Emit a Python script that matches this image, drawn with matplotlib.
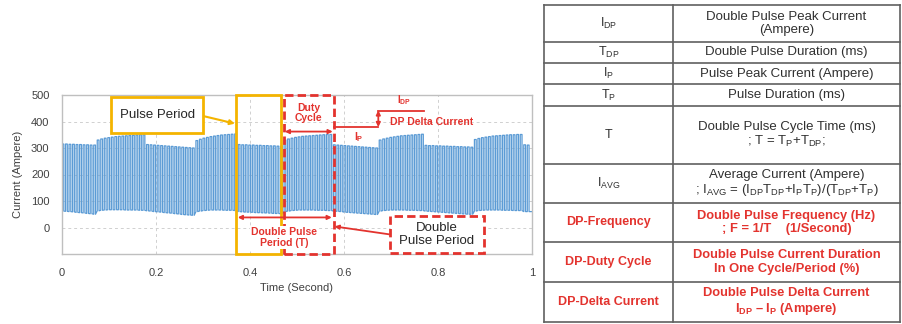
import matplotlib
matplotlib.use("Agg")
import matplotlib.pyplot as plt
from matplotlib.patches import Rectangle

plt.rcParams["font.family"] = ["Liberation Sans", "DejaVu Sans"]
plt.rcParams["mathtext.fontset"] = "custom"
plt.rcParams["mathtext.rm"] = "Liberation Sans"
plt.rcParams["mathtext.it"] = "Liberation Sans:italic"
plt.rcParams["mathtext.bf"] = "Liberation Sans:bold"

# ---- waveform data: one peak / base value per pulse ----
pulse_period = 0.0075  # s
peak_current = [
    315, 315, 314, 314, 313, 313, 312, 312, 311, 311,
    330, 334, 337, 339, 341, 343, 344, 345, 346, 347, 348, 349, 350, 350,
    313, 312, 311, 310, 309, 308, 307, 306, 305, 304, 303, 302, 301, 300,
    328, 333, 337, 340, 343, 345, 347, 349, 350, 351, 352, 353,
    313, 312, 312, 311, 311, 310, 310, 309, 309, 308, 308, 307, 307,
    330, 334, 337, 340, 342, 344, 345, 346, 347, 348, 349, 350, 351, 351,
    312, 311, 310, 309, 308, 307, 306, 305, 304, 303, 302, 301, 300,
    330, 334, 337, 340, 342, 344, 346, 347, 348, 349, 350, 351, 352,
    310, 309, 309, 308, 308, 307, 307, 306, 306, 305, 305, 304, 304, 303,
    332, 336, 339, 341, 343, 345, 346, 347, 348, 349, 350, 350, 351, 351,
    312, 311,
]
base_current = [
    62, 61, 60, 59, 57, 56, 55, 53, 52, 50,
    63, 65, 66, 67, 67, 67, 67, 67, 66, 66, 66, 66, 65, 65,
    63, 62, 60, 59, 58, 56, 55, 54, 52, 51, 49, 48, 47, 46,
    60, 62, 64, 65, 66, 66, 66, 66, 65, 65, 65, 64,
    60, 59, 58, 58, 57, 56, 56, 55, 55, 54, 53, 53, 52,
    60, 62, 64, 65, 66, 66, 66, 66, 66, 65, 65, 65, 64, 64,
    62, 61, 60, 58, 57, 56, 55, 54, 53, 52, 51, 50, 49,
    62, 64, 65, 66, 66, 66, 66, 66, 65, 65, 65, 64, 64,
    62, 61, 60, 59, 58, 57, 56, 55, 54, 53, 52, 51, 50, 50,
    62, 64, 65, 66, 66, 66, 66, 66, 65, 65, 65, 64, 64, 64,
    60, 60,
]

x_ticks = [0, 0.2, 0.4, 0.6, 0.8, 1]
x_tick_labels = ["0", "0.2", "0.4", "0.6", "0.8", "1"]
y_ticks = [0, 100, 200, 300, 400, 500]

# ---- definitions table ----
table_symbols = [
    r"I$_{\rm DP}$", r"T$_{\rm DP}$", r"I$_{\rm P}$", r"T$_{\rm P}$", "T",
    r"I$_{\rm AVG}$", "DP-Frequency", "DP-Duty Cycle", "DP-Delta Current",
]
table_meanings = [
    "Double Pulse Peak Current\n(Ampere)",
    "Double Pulse Duration (ms)",
    "Pulse Peak Current (Ampere)",
    "Pulse Duration (ms)",
    "Double Pulse Cycle Time (ms)\n" + r"; T = T$_{\rm P}$+T$_{\rm DP}$;",
    "Average Current (Ampere)\n"
    + r"; I$_{\rm AVG}$ = (I$_{\rm DP}$T$_{\rm DP}$+I$_{\rm P}$T$_{\rm P}$)/(T$_{\rm DP}$+T$_{\rm P}$)",
    "Double Pulse Frequency (Hz)\n; F = 1/T    (1/Second)",
    "Double Pulse Current Duration\nIn One Cycle/Period (%)",
    "Double Pulse Delta Current\n" + r"I$_{\mathbf{DP}}$ – I$_{\mathbf{P}}$ (Ampere)",
]
table_highlight = [False] * 6 + [True] * 3

BLUE = "#5B9BD5"
RED = "#E3332E"
GOLD = "#F4B400"

W, H = 903, 324
fig = plt.figure(figsize=(W / 100, H / 100), dpi=100)
fig.patch.set_facecolor("white")

# ---- waveform axes ----
ax = fig.add_axes([62 / W, 1 - 254 / H, 470 / W, 159 / H])
t_pts, i_pts = [], []
on_time = 0.5 * pulse_period
for k, (pk, bs) in enumerate(zip(peak_current, base_current)):
    t0 = k * pulse_period
    t_pts += [t0, t0, t0 + on_time, t0 + on_time]
    i_pts += [bs, pk, pk, bs]
t_pts.append(1.0)
i_pts.append(base_current[-1])
ax.plot(t_pts, i_pts, color=BLUE, lw=0.9, zorder=2)

ax.set_xlim(0, 1)
ax.set_ylim(-100, 500)
ax.set_xticks(x_ticks)
ax.set_xticklabels(x_tick_labels)
ax.set_yticks(y_ticks)
ax.tick_params(length=0, labelsize=8, colors="#404040")
ax.tick_params(axis="x", pad=10)
ax.tick_params(axis="y", pad=9)
ax.grid(True, color="#D0D0D0", lw=0.7, ls=(0, (3, 3)))
ax.set_axisbelow(True)
for s in ax.spines.values():
    s.set_color("#BFBFBF")
    s.set_linewidth(1)
ax.set_xlabel("Time (Second)", fontsize=8, color="#404040", labelpad=4)
ax.set_ylabel("Current (Ampere)", fontsize=8, color="#404040", labelpad=6)

# Pulse period frame
ax.add_patch(Rectangle((0.37, -100), 0.096, 600, fill=False, ec=GOLD, lw=2,
                       clip_on=False, zorder=4))
# Double pulse (duty cycle) frame
ax.add_patch(Rectangle((0.472, -100), 0.106, 600, fill=False, ec=RED, lw=2,
                       ls=(0, (3, 1.5)), clip_on=False, zorder=5))

arrow_kw = dict(arrowstyle="<|-|>", color=RED, lw=1.3, mutation_scale=6,
                shrinkA=0, shrinkB=0)
ax.annotate("", xy=(0.474, 362), xytext=(0.576, 362), arrowprops=arrow_kw, zorder=6)
ax.text(0.525, 432, "Duty\nCycle", color=RED, fontsize=7.5, fontweight="bold",
        ha="center", va="center", linespacing=1.1, zorder=6)

# delta current step marker
ax.plot([0.578, 0.673], [381, 381], color=RED, lw=1.3, zorder=6)
ax.plot([0.673, 0.771], [440, 440], color=RED, lw=1.3, zorder=6)
ax.annotate("", xy=(0.673, 442), xytext=(0.673, 379), arrowprops=arrow_kw, zorder=6)
ax.text(0.728, 482, r"I$_{\mathbf{DP}}$", color=RED, fontsize=7, fontweight="bold",
        ha="center", va="center")
ax.text(0.697, 398, "DP Delta Current", color=RED, fontsize=7.5, fontweight="bold",
        ha="left", va="center")
ax.text(0.632, 343, r"I$_{\mathbf{P}}$", color=RED, fontsize=7.5, fontweight="bold",
        ha="center", va="center")

# double pulse period arrow
ax.annotate("", xy=(0.374, 38), xytext=(0.574, 38), arrowprops=arrow_kw, zorder=6)
ax.text(0.472, -38, "Double Pulse\nPeriod (T)", color=RED, fontsize=7.5,
        fontweight="bold", ha="center", va="center", linespacing=1.2, zorder=6,
        bbox=dict(boxstyle="square,pad=0.05", fc="white", ec="none"))

# "Pulse Period" callout
ax.add_patch(Rectangle((0.105, 356), 0.196, 136, fc="white", ec=GOLD, lw=2, zorder=6))
ax.text(0.203, 424, "Pulse Period", fontsize=9.5, color="#262626", ha="center",
        va="center", zorder=7)
ax.annotate("", xy=(0.368, 392), xytext=(0.302, 420),
            arrowprops=dict(arrowstyle="-|>", color=GOLD, lw=1.5, mutation_scale=7,
                            shrinkA=0, shrinkB=0), zorder=6)

# "Double Pulse Period" callout
ax.add_patch(Rectangle((0.697, -95), 0.2, 137, fc="white", ec=RED, lw=2,
                       ls=(0, (3, 1.5)), zorder=6, clip_on=False))
ax.text(0.797, -27, "Double\nPulse Period", fontsize=9.5, color="#262626",
        ha="center", va="center", linespacing=1.15, zorder=7)
ax.annotate("", xy=(0.58, 4), xytext=(0.697, -26),
            arrowprops=dict(arrowstyle="-|>", color=RED, lw=1.3, mutation_scale=6,
                            shrinkA=0, shrinkB=0), zorder=6)

# ---- definitions table (pixel coordinates) ----
tab = fig.add_axes([0, 0, 1, 1])
tab.set_xlim(0, W)
tab.set_ylim(H, 0)
tab.axis("off")
tab.patch.set_alpha(0)

row_edges = [5, 42, 63, 84, 106, 164, 203, 242, 282, 322]
col_edges = [544, 673, 900]
LINE = "#606060"
for y in row_edges:
    tab.plot([col_edges[0], col_edges[-1]], [y, y], color=LINE, lw=1.2)
for x in col_edges:
    tab.plot([x, x], [row_edges[0], row_edges[-1]], color=LINE, lw=1.2)

for i, (sym, text, hl) in enumerate(zip(table_symbols, table_meanings, table_highlight)):
    yc = (row_edges[i] + row_edges[i + 1]) / 2
    color = RED if hl else "#303030"
    weight = "bold" if hl else "normal"
    tab.text((col_edges[0] + col_edges[1]) / 2, yc, sym, color=color,
             fontweight=weight, fontsize=9, ha="center", va="center")
    tab.text((col_edges[1] + col_edges[2]) / 2, yc, text, color=color,
             fontweight=weight, fontsize=9.5 if not hl else 9.3, ha="center",
             va="center", linespacing=1.15)

fig.savefig("out.png", dpi=100, facecolor="white")
